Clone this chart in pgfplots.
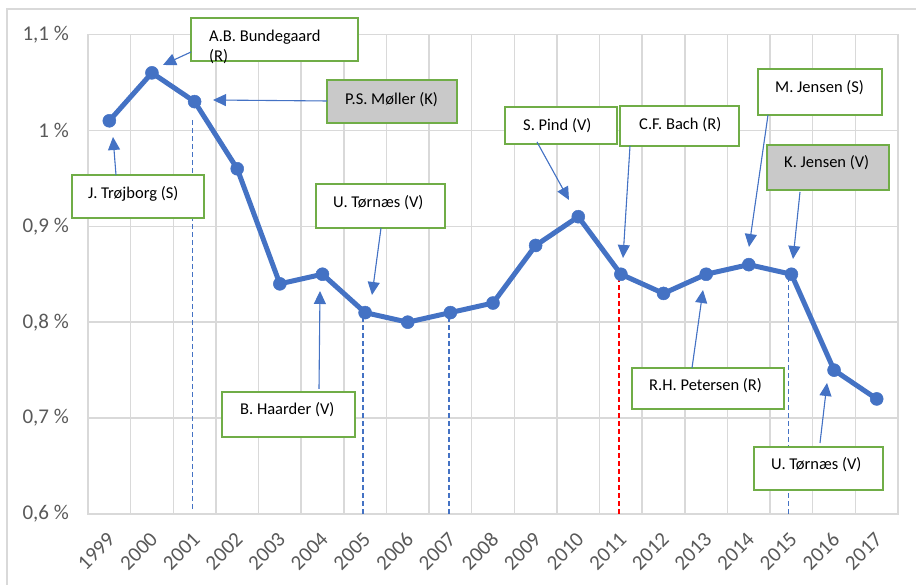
\documentclass[border=0pt]{standalone}
\usepackage{pgfplots}
\pgfplotsset{compat=1.18}
\usepackage{fontspec}
\setmainfont{Carlito}
\usetikzlibrary{arrows.meta}
\definecolor{xblue}{HTML}{4472C4}
\definecolor{xgreen}{HTML}{70AD47}
\definecolor{xgrid}{HTML}{D9D9D9}
\definecolor{xtext}{HTML}{595959}
\definecolor{xfill}{HTML}{C9C9C9}
\begin{document}
\begin{tikzpicture}
\useasboundingbox (0pt,0pt) rectangle (916pt,585pt);
\draw[xgrid, line width=1.5pt] (7pt,0pt) -- (7pt,576pt) -- (916pt,576pt);
\begin{axis}[
  at={(88pt,71pt)}, anchor=south west, scale only axis,
  width=810pt, height=479.5pt,
  xmin=1998.5, xmax=2017.5, ymin=0.6, ymax=1.1,
  xtick={1999,2000,2001,2002,2003,2004,2005,2006,2007,2008,2009,2010,2011,2012,2013,2014,2015,2016,2017},
  xticklabels={1999,2000,2001,2002,2003,2004,2005,2006,2007,2008,2009,2010,2011,2012,2013,2014,2015,2016,2017},
  minor xtick={1998.5,1999.5,...,2017.5},
  ytick={0.6,0.7,0.8,0.9,1.0,1.1},
  yticklabels={{0,6 \%},{0,7 \%},{0,8 \%},{0,9 \%},{1 \%},{1,1 \%}},
  ymajorgrids, xminorgrids,
  major grid style={draw=xgrid, line width=1.5pt},
  minor grid style={draw=xgrid, line width=1.5pt},
  axis line style={draw=xgrid, line width=1.5pt},
  major tick length=0pt, minor tick length=0pt,
  tick style={draw=none},
  ticklabel style={font=\fontsize{21}{25}\selectfont, text=xtext},
  yticklabel style={anchor=east, inner sep=0pt, xshift=-19pt},
  xticklabel style={inner sep=0pt, xshift=2pt, yshift=-22pt, rotate=45, anchor=east},
  clip=false,
]
% dashed reference lines
\addplot[forget plot, xblue, line width=1.8pt, dash pattern=on 5pt off 3pt] coordinates {(2000.95,0.605) (2000.95,1.013)};
\addplot[forget plot, xblue, line width=1.8pt, dash pattern=on 5pt off 3pt] coordinates {(2004.95,0.6) (2004.95,0.81)};
\addplot[forget plot, xblue, line width=1.8pt, dash pattern=on 5pt off 3pt] coordinates {(2006.97,0.6) (2006.97,0.81)};
\addplot[forget plot, red, line width=1.8pt, dash pattern=on 5pt off 3pt] coordinates {(2010.95,0.6) (2010.95,0.845)};
\addplot[forget plot, xblue, line width=1.8pt, dash pattern=on 5pt off 3pt] coordinates {(2014.93,0.6) (2014.93,0.845)};
% main series
\addplot[xblue, line width=5pt, line join=round, mark=*, mark size=6.5pt,
  mark options={solid, fill=xblue, draw=xblue, line width=0.5pt}] coordinates {
(1999,1.01) (2000,1.06) (2001,1.03) (2002,0.96) (2003,0.84) (2004,0.85)
(2005,0.81) (2006,0.80) (2007,0.81) (2008,0.82) (2009,0.88) (2010,0.91)
(2011,0.85) (2012,0.83) (2013,0.85) (2014,0.86) (2015,0.85) (2016,0.75) (2017,0.72)};
\end{axis}
\begin{scope}[shift={(0pt,585pt)}, x=1pt, y=-1pt,
  box/.style={draw=xgreen, line width=2pt, fill=white},
  gbox/.style={draw=xgreen, line width=2pt, fill=xfill},
  lbl/.style={anchor=base west, inner sep=0pt, font=\fontsize{16.5}{19}\selectfont, text=black},
  arr/.style={draw=xblue, line width=1.1pt, -{Triangle[length=13pt,width=12pt]}, fill=xblue}]
% boxes
\draw[box] (191,18) rectangle (358,61);
\draw[gbox] (327,80) rectangle (457,123);
\draw[box] (72,175) rectangle (204,218);
\draw[box] (316,184) rectangle (445,228);
\draw[box] (222,392) rectangle (355,437);
\draw[box] (505,107) rectangle (617,144);
\draw[box] (620,106) rectangle (739,146);
\draw[box] (758,69) rectangle (882,115);
\draw[gbox] (767,145) rectangle (889,190);
\draw[box] (632,368) rectangle (784,409);
\draw[box] (754,447) rectangle (883,490);
% labels
\node[lbl] at (209,42) {A.B. Bundegaard};
\node[lbl] at (209,62) {(R)};
\node[lbl] at (345,104.5) {P.S. Møller (K)};
\node[lbl] at (88,199) {J. Trøjborg (S)};
\node[lbl] at (333,208) {U. Tørnæs (V)};
\node[lbl] at (240,415) {B. Haarder (V)};
\node[lbl] at (523,131) {S. Pind (V)};
\node[lbl] at (639,130) {C.F. Bach (R)};
\node[lbl] at (775,92.7) {M. Jensen (S)};
\node[lbl] at (784,168) {K. Jensen (V)};
\node[lbl] at (649,391) {R.H. Petersen (R)};
\node[lbl] at (771,470) {U. Tørnæs (V)};
% arrows
\draw[arr] (191,52) -- (163,65);
\draw[arr] (327,101) -- (213,100);
\draw[arr] (116,175) -- (113,137);
\draw[arr] (381,228) -- (372,295);
\draw[arr] (319,389) -- (320,291);
\draw[arr] (537,142) -- (569,200);
\draw[arr] (630,146) -- (623,258);
\draw[arr] (768,115) -- (749,247);
\draw[arr] (800,192) -- (793,259);
\draw[arr] (692,368) -- (703,290);
\draw[arr] (820,443) -- (827,383);
\end{scope}
\end{tikzpicture}
\end{document}
